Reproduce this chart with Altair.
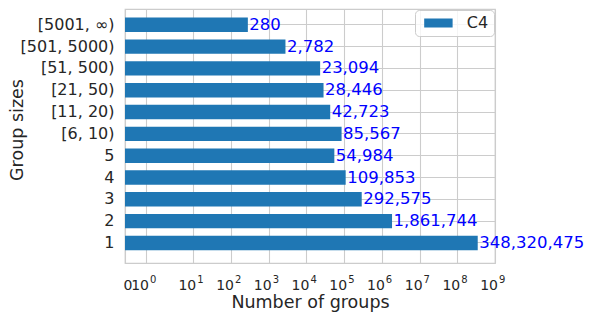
import math
import altair as alt
import pandas as pd

# ---- data ----
groups = ["1", "2", "3", "4", "5", "[6, 10)", "[11, 20)", "[21, 50)",
          "[51, 500)", "[501, 5000)", "[5001, ∞)"]
counts = [348320475, 1861744, 292575, 109853, 54984, 85567, 42723, 28446,
          23094, 2782, 280]
series_name = "C4"
x_ticks = [0, 1, 10, 100, 1000, 10**4, 10**5, 10**6, 10**7, 10**8, 10**9]
x_max = 10**9

# symmetric-log axis (linear below LINTHRESH, log10 above)
LINTHRESH = 2.0
ADJ = 1.0 / (1.0 - 1.0 / 10.0)


def symlog(v):
    if v <= LINTHRESH:
        return v / LINTHRESH * ADJ
    return ADJ + math.log10(v / LINTHRESH)


pos_expr = (f"datum.count <= {LINTHRESH} ? datum.count / {LINTHRESH} * {ADJ} : "
            f"{ADJ} + log(datum.count / {LINTHRESH}) / LN10")
inv = (f"(datum.value <= {ADJ} ? datum.value / {ADJ} * {LINTHRESH} : "
       f"{LINTHRESH} * pow(10, datum.value - {ADJ}))")
base_label = "datum.value < 1e-6 ? '0' : '10'"
exp_label = f"datum.value < 1e-6 ? '' : '' + round(log({inv}) / LN10)"

df = pd.DataFrame({"group": groups, "count": counts, "series": series_name})

FONT = "DejaVu Sans"
TXT = "#262626"
GRID = "#cccccc"
tick_pos = [symlog(t) for t in x_ticks]
x_scale = alt.Scale(domain=[0, symlog(x_max)], nice=False, zero=True)

y_enc = alt.Y("group:N", sort=groups[::-1],
              scale=alt.Scale(paddingInner=0.34, paddingOuter=0.49, align=0.4),
              axis=alt.Axis(title="Group sizes", labelFontSize=16, titleFontSize=17.5,
                            labelPadding=11, bandPosition=0.5,
                            titleX=-116.5, titleY=120.5, titleBaseline="top"))

base = alt.Chart(df).transform_calculate(pos=pos_expr)

bars = base.mark_bar().encode(
    y=y_enc,
    x=alt.X("pos:Q", scale=x_scale,
            axis=alt.Axis(title="Number of groups", values=tick_pos, orient="bottom",
                          labelExpr=base_label, labelFontSize=14, titleFontSize=17.5,
                          labelBaseline="alphabetic", labelPadding=26, labelOffset=2.5,
                          labelAlign={"condition": {"test": "datum.value < 1e-6",
                                                    "value": "center"},
                                      "value": "right"},
                          titleBaseline="alphabetic", titleY=44.3,
                          labelFlush=False, labelOverlap=False, labelBound=False)),
    color=alt.Color("series:N", scale=alt.Scale(range=["#1f77b4"]),
                    legend=alt.Legend(title=None, orient="none", legendX=290, legendY=1,
                                      symbolType="M-2,-0.634L2,-0.634L2,0.634L-2,0.634Z",
                                      symbolSize=202, symbolStrokeWidth=0,
                                      symbolOffset=10.4, labelOffset=20.4,
                                      labelFontSize=16, labelFont=FONT, labelColor=TXT,
                                      padding=5, fillColor="rgba(255,255,255,0.8)",
                                      strokeColor=GRID, cornerRadius=4)),
)

labels = base.mark_text(align="left", baseline="middle", dx=1.5, color="#0000ff",
                        fontSize=16.5, font=FONT).encode(
    y=y_enc,
    x=alt.X("pos:Q", scale=x_scale,
            axis=alt.Axis(title=None, values=tick_pos, orient="bottom", grid=False,
                          labelExpr=exp_label, labelFontSize=10, labelAlign="left",
                          labelOffset=3.5, labelBaseline="alphabetic", labelPadding=19.3,
                          labelFlush=False, labelOverlap=False, labelBound=False)),
    text=alt.Text("count:Q", format=",d"),
)

chart = alt.layer(bars, labels).resolve_axis(x="independent").properties(
    width=370, height=254,
    autosize=alt.AutoSizeParams(type="none"),
    padding={"left": 117, "top": 1, "right": 89, "bottom": 49},
).configure_view(stroke=GRID, strokeWidth=1.25).configure_axis(
    domain=False, ticks=False, grid=True, gridColor=GRID, gridWidth=1.1,
    labelColor=TXT, titleColor=TXT, labelFont=FONT, titleFont=FONT,
    titleFontWeight="normal")

chart.save("out.html", embed_options={"renderer": "svg", "actions": False})
